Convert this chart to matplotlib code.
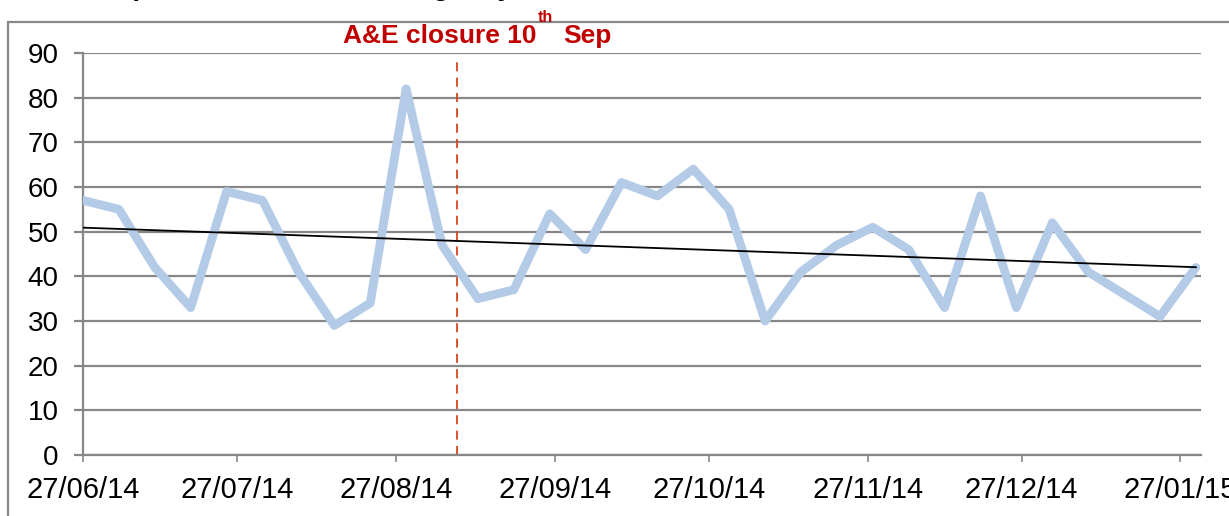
import numpy as np
import matplotlib
matplotlib.use('Agg')
from matplotlib import pyplot as plt
from matplotlib import dates as mdates
from matplotlib.patches import Rectangle
from datetime import date, timedelta

# weekly counts, first week starting 27/06/14
start = date(2014, 6, 27)
counts = [57, 55, 42, 33, 59, 57, 41, 29, 34, 82,
          47, 35, 37, 54, 46, 61, 58, 64, 55, 30,
          41, 47, 51, 46, 33, 58, 33, 52, 41, 36,
          31, 42]
weeks = [start + timedelta(days=7*i) for i in range(len(counts))]

tick_dates = [date(2014, 6, 27), date(2014, 7, 27), date(2014, 8, 27), date(2014, 9, 27),
              date(2014, 10, 27), date(2014, 11, 27), date(2014, 12, 27), date(2015, 1, 27)]
closure_date = date(2014, 9, 8)
closure_label = 'A&E closure 10'
title = 'Hospital admissions: emergency'

plt.rcParams['font.family'] = ['Liberation Sans', 'DejaVu Sans']

W, H = 1229, 516
fig = plt.figure(figsize=(W/100, H/100), dpi=100)
ax = fig.add_axes([83/W, 61/H, (1201 - 83)/W, (455 - 53)/H])

grey = '#878787'
ax.set_ylim(0, 90)
ax.set_yticks(np.arange(0, 91, 10))
ax.set_xlim(date(2014, 6, 27), date(2015, 1, 31))
ax.set_xticks(tick_dates)
ax.xaxis.set_major_formatter(mdates.DateFormatter('%d/%m/%y'))
ax.grid(True, axis='y', color=grey, linewidth=1.6)
ax.set_axisbelow(True)
for side in ['top', 'right']:
    ax.spines[side].set_visible(False)
for side in ['left', 'bottom']:
    ax.spines[side].set_color(grey)
    ax.spines[side].set_linewidth(1.6)
ax.tick_params(axis='y', direction='out', length=6.5, width=1.6, color=grey, labelsize=20, pad=11)
ax.tick_params(axis='x', direction='out', length=5, width=1.2, color=grey, labelsize=21, pad=10)

# data line
ax.plot(weeks, counts, color='#B4CBE8', linewidth=6.3, solid_joinstyle='round', solid_capstyle='round', zorder=3)

# linear trend
xnum = mdates.date2num(weeks)
coef = np.polyfit(xnum, counts, 1)
ax.plot(weeks, np.polyval(coef, xnum), color='black', linewidth=1.3, zorder=4)

# closure marker
ax.vlines(closure_date, 0, 89, colors='#D9451A', linestyles=(0, (5, 3.5)), linewidth=1.3, zorder=2)
red = '#C00000'
fig.text(343/W, 1 - 43/H, closure_label, color=red, fontsize=19, fontweight='bold', va='baseline', ha='left')
fig.text(538/W, 1 - 22/H, 'th', color=red, fontsize=11.5, fontweight='bold', va='baseline', ha='left')
fig.text(563/W, 1 - 43/H, 'Sep', color=red, fontsize=19, fontweight='bold', va='baseline', ha='left')

# cropped title and outer chart frame
fig.text(80/W, 1 + 5/H, title, fontsize=20, fontweight='bold', va='baseline', ha='left')
fig.patches.append(Rectangle((7.5/W, -0.1), 1.2, 1 - 22/H + 0.1, transform=fig.transFigure,
                             fill=False, edgecolor=grey, linewidth=1.6))

fig.savefig('out.png', dpi=100)
